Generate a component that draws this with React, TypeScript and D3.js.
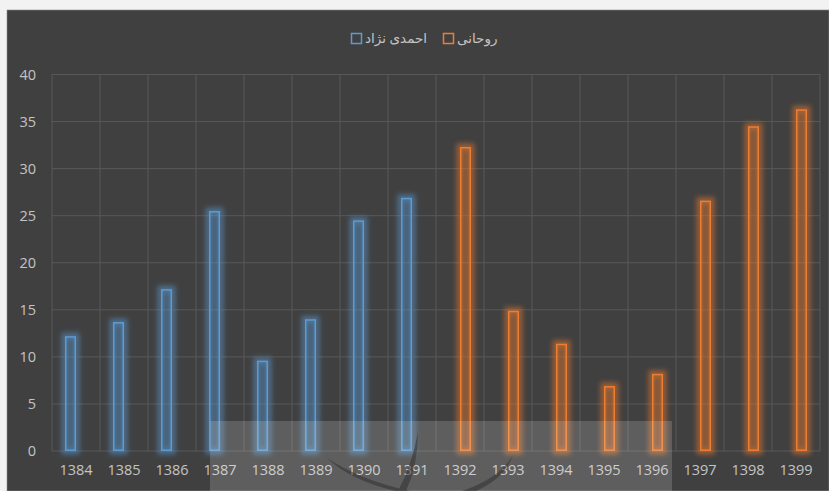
import React from "react";
import * as d3 from "d3";

const categories = ["1384","1385","1386","1387","1388","1389","1390","1391","1392","1393","1394","1395","1396","1397","1398","1399"];
const seriesNames = ["احمدی نژاد", "روحانی"];
const ahmadinejad: (number | null)[] = [12.2, 13.7, 17.2, 25.5, 9.6, 14.0, 24.5, 26.9, null, null, null, null, null, null, null, null];
const rouhani: (number | null)[] = [null, null, null, null, null, null, null, null, 32.3, 14.9, 11.4, 6.9, 8.2, 26.6, 34.5, 36.3];
const yTicks = [0, 5, 10, 15, 20, 25, 30, 35, 40];
const colors = ["#5b9bd5", "#ed7d31"];
const fills = ["rgba(91,155,213,0.22)", "rgba(237,125,49,0.25)"];

const W = 829, H = 491;
const left = 52, right = 820, top = 74.5, bottom = 451;
const FONT = "'Segoe UI', 'Open Sans', 'DejaVu Sans', sans-serif";

export default function App() {
  const x0 = d3.scaleBand<string>().domain(categories).range([left, right]).paddingInner(0).paddingOuter(0);
  const x1 = d3.scaleBand<string>().domain(seriesNames).range([0, x0.bandwidth()]).paddingInner(0).paddingOuter(1.18);
  const y = d3.scaleLinear().domain([0, 40]).range([bottom, top]);
  const series = [ahmadinejad, rouhani];

  const bars: React.ReactNode[] = [];
  series.forEach((vals, si) => {
    vals.forEach((v, i) => {
      if (v == null) return;
      const bx = (x0(categories[i]) as number) + (x1(seriesNames[si]) as number);
      const bw = x1.bandwidth();
      const by = y(v);
      const bh = y(0) - by;
      bars.push(
        <g key={`${si}-${i}`}>
          <rect x={bx} y={by} width={bw} height={bh} fill="none" stroke={colors[si]} strokeWidth={7} opacity={0.5} filter="url(#glow)" />
          <rect x={bx + 0.75} y={by + 0.75} width={bw - 1.5} height={bh - 1.5} fill={fills[si]} stroke={colors[si]} strokeWidth={1.5} />
        </g>
      );
    });
  });

  const vLines = d3.range(categories.length + 1).map((i) => left + i * x0.step());

  return (
    <svg width={W} height={H} style={{ position: "absolute", left: 0, top: 0, display: "block" }} xmlns="http://www.w3.org/2000/svg">
      <defs>
        <filter id="glow" x="-100%" y="-20%" width="300%" height="140%">
          <feGaussianBlur stdDeviation={2.4} />
        </filter>
      </defs>
      <rect x={0} y={0} width={W} height={H} fill="#f2f2f2" />
      <rect x={7} y={10} width={W - 7} height={H - 10} fill="#404040" stroke="#8a8a8a" strokeWidth={0.6} />
      {yTicks.map((t) => (
        <line key={`h${t}`} x1={left} x2={right} y1={y(t)} y2={y(t)} stroke="#585858" strokeWidth={1} />
      ))}
      {vLines.map((vx, i) => (
        <line key={`v${i}`} x1={vx} x2={vx} y1={top} y2={bottom} stroke="#585858" strokeWidth={1} />
      ))}
      {bars}
      {yTicks.map((t) => (
        <text key={`yl${t}`} x={36} y={y(t)} dy="0.35em" textAnchor="end" fill="#c4c4c4" fontSize={14.5} fontFamily={FONT}>{t}</text>
      ))}
      {categories.map((c) => (
        <text key={`xl${c}`} x={(x0(c) as number) + x0.bandwidth() / 2} y={470} dy="0.35em" textAnchor="middle" fill="#c4c4c4" fontSize={14.5} fontFamily={FONT}>{c}</text>
      ))}
      <g fontFamily={FONT} fontSize={13.5} fill="#c4c4c4">
        <rect x={351.5} y={33.5} width={10} height={10} fill="none" stroke={colors[0]} strokeWidth={1.5} />
        <text x={365} y={38.5} dy="0.35em">{seriesNames[0]}</text>
        <rect x={443.5} y={33.5} width={10} height={10} fill="none" stroke={colors[1]} strokeWidth={1.5} />
        <text x={457} y={38.5} dy="0.35em">{seriesNames[1]}</text>
      </g>
      <rect x={210} y={421} width={462} height={70} fill="#ffffff" opacity={0.16} />
      <g fill="#2e2e2e" opacity={0.5}>
        <path d="M327,458 Q350,480 395,491 L410,491 Q360,480 327,458 Z" />
        <path d="M418,432 Q412,465 398,491 L406,491 Q418,465 418,432 Z" />
        <path d="M513,455 Q500,478 462,491 L476,491 Q505,478 513,455 Z" />
      </g>
    </svg>
  );
}
